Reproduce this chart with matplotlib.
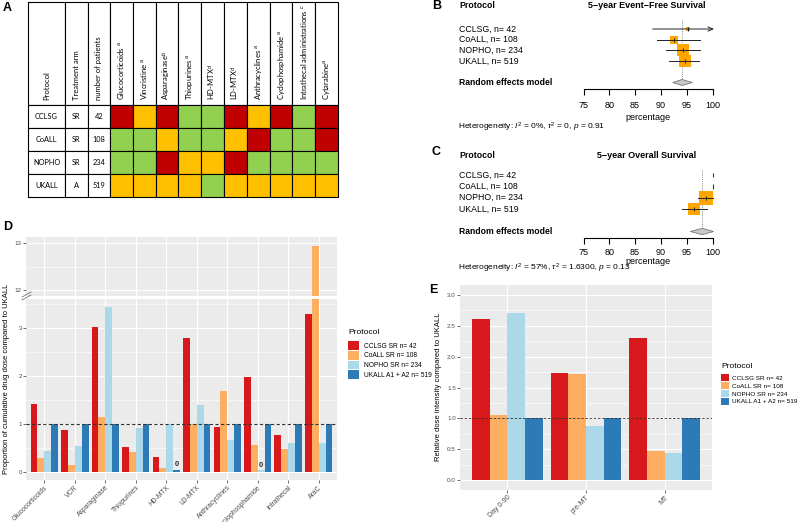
import matplotlib
matplotlib.use('Agg')
import matplotlib.pyplot as plt
import matplotlib.transforms as mtransforms
from matplotlib.patches import Rectangle, Polygon, Patch
from matplotlib.lines import Line2D
import numpy as np

W, H = 800, 522
plt.rcParams['font.family'] = ['Liberation Sans', 'DejaVu Sans']
plt.rcParams['mathtext.fontset'] = 'custom'
plt.rcParams['mathtext.rm'] = 'Liberation Sans'
plt.rcParams['mathtext.it'] = 'Liberation Sans:italic'

# ---------------- data ----------------
# A: protocol comparison table (R = higher, O = similar, G = lower than reference)
tbl_headers = ['Protocol', 'Treatment arm', 'number of patients',
               'Glucocorticoids $^{a}$', 'Vincristine $^{a}$', 'Asparaginase$^{b}$',
               'Thiopurines $^{a}$', 'HD-MTX$^{d}$', 'LD-MTX$^{d}$',
               'Anthracyclines $^{a}$', 'Cyclophosphamide $^{a}$',
               'Intrathecal administrations $^{c}$', 'Cytarabine$^{a}$']
tbl_protocols = ['CCLSG', 'CoALL', 'NOPHO', 'UKALL']
tbl_arms = ['SR', 'SR', 'SR', 'A']
tbl_n = [42, 108, 234, 519]
tbl_grades = [
    ['R', 'O', 'R', 'G', 'G', 'R', 'O', 'R', 'G', 'R'],
    ['G', 'G', 'O', 'G', 'G', 'O', 'R', 'G', 'G', 'R'],
    ['G', 'G', 'R', 'O', 'O', 'R', 'G', 'G', 'G', 'G'],
    ['O', 'O', 'O', 'O', 'G', 'O', 'O', 'O', 'O', 'O'],
]

# B / C: forest plots
fp_labels = ['CCLSG, n= 42', 'CoALL, n= 108', 'NOPHO, n= 234', 'UKALL, n= 519']
efs_est = [95.2, 92.6, 94.2, 94.6]
efs_lo = [88.4, 89.3, 91.0, 91.6]
efs_hi = [101.5, 97.5, 97.5, 97.3]
efs_w = [7, 16, 35, 43]
efs_re = [94.1, 92.3, 96.1]
os_est = [100.0, 100.0, 98.8, 96.5]
os_lo = [100.0, 100.0, 97.2, 94.1]
os_hi = [100.0, 100.0, 100.0, 99.0]
os_w = [0, 0, 52, 35]
os_re = [98.0, 95.7, 100.2]

# D: cumulative drug dose relative to UKALL
drug_names = ['Glucocorticoids', 'VCR', 'Asparaginase', 'Thiopurines', 'HD-MTX',
              'LD-MTX', 'Anthracyclines', 'Cyclophosphamide', 'Intrathecal', 'AraC']
dose_cclsg = [1.41, 0.87, 3.01, 0.51, 0.30, 2.79, 0.94, 1.97, 0.76, 3.29]
dose_coall = [0.28, 0.15, 1.15, 0.41, 0.07, 1.00, 1.68, 0.56, 0.48, 12.94]
dose_nopho = [0.43, 0.53, 3.44, 0.92, 1.00, 1.40, 0.66, 0.03, 0.61, 0.60]
dose_ukall = [1.00, 1.00, 1.00, 1.00, 0.04, 1.00, 1.00, 1.00, 1.00, 1.00]
zero_marks = [('HD-MTX', 3), ('Cyclophosphamide', 2)]

# E: relative dose intensity
phases = ['Day 0-90', 'pre-MT', 'MT']
di_cclsg = [2.61, 1.74, 2.30]
di_coall = [1.06, 1.72, 0.48]
di_nopho = [2.70, 0.88, 0.44]
di_ukall = [1.00, 1.00, 1.00]

legend_labels = ['CCLSG SR n= 42', 'CoALL SR n= 108', 'NOPHO SR n= 234',
                 'UKALL A1 + A2 n= 519']
PAL = ['#D7191C', '#FDAE61', '#ABD9E9', '#2C7BB6']
CELL = {'R': '#C00000', 'O': '#FFC000', 'G': '#92D050'}

fig = plt.figure(figsize=(8, 5.22), dpi=100)


def px_axes(x0, y0, x1, y1):
    return fig.add_axes([x0 / W, 1 - y1 / H, (x1 - x0) / W, (y1 - y0) / H])


def fx(x):
    return x / W


def fy(y):
    return 1 - y / H


def panel_letter(x, y, s):
    fig.text(fx(x), fy(y), s, fontsize=9, fontweight='bold', ha='left', va='center')


# ---------------- A ----------------
axA = px_axes(28, 2, 338, 197)
col_w = [37, 23, 22] + [22.8] * 10
row_h = [103, 23, 23, 23, 23]
xe = np.concatenate([[0], np.cumsum(col_w)])
ye = np.concatenate([[0], np.cumsum(row_h)])
axA.set_xlim(0, xe[-1])
axA.set_ylim(ye[-1], 0)
axA.axis('off')
for j, name in enumerate(tbl_headers):
    axA.add_patch(Rectangle((xe[j], ye[0]), col_w[j], row_h[0], fc='white',
                            ec='black', lw=0.8, clip_on=False))
    axA.text((xe[j] + xe[j + 1]) / 2, ye[1] - 5, name, rotation=90, ha='center',
             va='bottom', fontsize=5.5, family='Lato')
for i, prot in enumerate(tbl_protocols):
    first = [prot, tbl_arms[i], str(tbl_n[i])]
    for j in range(len(col_w)):
        if j < 3:
            fc = 'white'
        else:
            fc = CELL[tbl_grades[i][j - 3]]
        axA.add_patch(Rectangle((xe[j], ye[i + 1]), col_w[j], row_h[i + 1], fc=fc,
                                ec='black', lw=0.8, clip_on=False))
        if j < 3:
            axA.text((xe[j] + xe[j + 1]) / 2, (ye[i + 1] + ye[i + 2]) / 2, first[j],
                     ha='center', va='center', fontsize=5.3, family='Lato')
panel_letter(3, 8, 'A')


# ---------------- B / C ----------------
def forest(top, row0, step, axis_y, tick_pad, title, title_y, est, lo, hi, wts, re,
           het, pct_y, het_y, vline_top):
    ax = px_axes(583.5, top, 712.5, axis_y)
    ax.set_xlim(75, 100)
    ax.set_ylim((axis_y - row0) / step, (top - row0) / step)
    ax.patch.set_visible(False)
    for s in ['top', 'left', 'right']:
        ax.spines[s].set_visible(False)
    ax.spines['bottom'].set_linewidth(0.8)
    ax.set_yticks([])
    ax.set_xticks([75, 80, 85, 90, 95, 100])
    ax.tick_params(axis='x', length=4.5, width=0.8, labelsize=6.5, pad=tick_pad)
    rows = np.arange(len(est))
    trans = mtransforms.blended_transform_factory(fig.transFigure, ax.transData)
    for r, lab in zip(rows, fp_labels):
        ax.text(fx(459), r, lab, transform=trans, fontsize=6.3, va='center', ha='left')
    ax.text(fx(459), 5, 'Random effects model', transform=trans, fontsize=6.2,
            fontweight='bold', va='center', ha='left')
    fig.text(fx(459), fy(title_y), 'Protocol', fontsize=6.3, fontweight='bold',
             va='center', ha='left')
    fig.text(fx(647), fy(title_y), title, fontsize=6.5, fontweight='bold',
             va='center', ha='center')
    fig.text(fx(648), fy(pct_y), 'percentage', fontsize=6.5, va='center', ha='center')
    fig.text(fx(458), fy(het_y), het, fontsize=6, va='center', ha='left')
    ax.vlines(re[0], vline_top, 4.72, colors='#888888', linestyles=(0, (1, 1.2)),
              lw=0.7, clip_on=False)
    for r in rows:
        if wts[r] > 0:
            ax.scatter(est[r], r, s=wts[r] * 1.8, marker='s', color='#FFA500',
                       lw=0, zorder=2, clip_on=False)
            if hi[r] > 100:
                ax.annotate('', xy=(100.3, r), xytext=(lo[r], r),
                            arrowprops=dict(arrowstyle='->,head_length=0.35,head_width=0.15',
                                            lw=0.7, color='#222222',
                                            shrinkA=0, shrinkB=0),
                            annotation_clip=False, zorder=3)
            else:
                ax.plot([lo[r], hi[r]], [r, r], color='#222222', lw=0.7, zorder=3,
                        clip_on=False)
            ax.plot(est[r], r, marker='|', ms=3, mew=0.7, color='#222222', zorder=4,
                    clip_on=False)
        else:
            ax.vlines(est[r], r - 0.2, r + 0.2, colors='#333333', lw=0.8,
                      clip_on=False, zorder=4)
    ax.add_patch(Polygon([(re[1], 5), (re[0], 4.72), (re[2], 5), (re[0], 5.28)],
                         closed=True, fc='#C8C8C8', ec='#777777', lw=0.6,
                         clip_on=False, zorder=3))
    return ax


forest(14, 29, 10.7, 89, 4.5, '5\u2212year Event\u2212Free Survival', 6,
       efs_est, efs_lo, efs_hi, efs_w, efs_re,
       r'Heterogeneity: $I^2$ = 0%, $\tau^2$ = 0, $p$ = 0.91', 117, 127, -0.8)
forest(163, 175, 11.3, 238, 3.0, '5\u2212year Overall Survival', 155,
       os_est, os_lo, os_hi, os_w, os_re,
       r'Heterogeneity: $I^2$ = 57%, $\tau^2$ = 1.6300, $p$ = 0.13', 262, 268, -0.45)
panel_letter(432, 6, 'B')
panel_letter(432, 152, 'C')


# ---------------- ggplot-style helpers ----------------
def gg_style(ax):
    ax.set_facecolor('#EBEBEB')
    for s in ax.spines.values():
        s.set_visible(False)
    ax.set_axisbelow(True)
    ax.grid(True, which='major', color='white', lw=0.8)
    ax.grid(True, which='minor', axis='y', color='white', lw=0.4)
    ax.tick_params(which='major', length=2, width=0.5, color='#333333',
                   labelsize=4.5, labelcolor='#4D4D4D', pad=1)
    ax.tick_params(which='minor', length=0)


bw = 0.225
offsets = (np.arange(4) - 1.5) * bw
handles = [Patch(facecolor=c, edgecolor='none') for c in PAL]

# ---------------- D ----------------
xD = np.arange(len(drug_names))
dose_series = [dose_cclsg, dose_coall, dose_nopho, dose_ukall]
axDu = px_axes(26, 237, 337, 296)
axDl = px_axes(26, 299, 337, 480)
for ax in (axDu, axDl):
    gg_style(ax)
    for k, vals in enumerate(dose_series):
        ax.bar(xD + offsets[k], vals, width=bw, color=PAL[k], zorder=2)
    ax.set_xlim(-0.6, len(drug_names) - 0.4)
    ax.set_xticks(xD)
axDu.set_ylim(11.88, 13.12)
axDu.set_yticks([12, 13])
axDu.set_yticks([12.5], minor=True)
axDu.tick_params(axis='x', length=0, labelbottom=False)
axDl.set_ylim(-0.17, 3.6)
axDl.set_yticks([0, 1, 2, 3])
axDl.set_yticks([0.5, 1.5, 2.5, 3.5], minor=True)
axDl.set_xticklabels(drug_names, rotation=45, ha='right', va='top',
                     rotation_mode='anchor', fontsize=4.9)
axDl.axhline(1, color='#333333', ls=(0, (3, 2)), lw=0.8, zorder=3)
for drug, k in zero_marks:
    i = drug_names.index(drug)
    axDl.text(xD[i] + offsets[k], dose_series[k][i] + 0.03, '0', ha='center',
              va='bottom', fontsize=5.5, color='#333333', fontweight='bold')
# axis break marks
for dy in (0, 3):
    fig.add_artist(Line2D([fx(22), fx(31)], [fy(297 + dy), fy(292 + dy)],
                          color='#777777', lw=0.6))
fig.text(fx(7), fy(379), 'Proportion of cumulative drug dose compared to UKALL',
         rotation=90, ha='center', va='center', fontsize=5.5)
fig.text(fx(348), fy(333), 'Protocol', fontsize=6, ha='left', va='center')
fig.legend(handles, legend_labels, loc='upper left',
           bbox_to_anchor=(fx(348), fy(341)), bbox_transform=fig.transFigure,
           frameon=False, fontsize=4.8, handlelength=1.65,
           handleheight=1.65, labelspacing=0.15, handletextpad=0.7,
           borderpad=0, borderaxespad=0)
panel_letter(3, 227, 'D')

# ---------------- E ----------------
xE = np.arange(len(phases))
di_series = [di_cclsg, di_coall, di_nopho, di_ukall]
axE = px_axes(460, 285, 712, 490)
gg_style(axE)
for k, vals in enumerate(di_series):
    axE.bar(xE + offsets[k], vals, width=bw, color=PAL[k], zorder=2)
axE.set_xlim(-0.6, len(phases) - 0.4)
axE.set_xticks(xE)
axE.set_xticklabels(phases, rotation=45, ha='right', va='top',
                    rotation_mode='anchor', fontsize=5)
axE.set_ylim(-0.155, 3.155)
yt = np.arange(0, 3.01, 0.5)
axE.set_yticks(yt)
axE.set_yticklabels(['%.1f' % v for v in yt])
axE.set_yticks(np.arange(0.25, 3.1, 0.5), minor=True)
axE.axhline(1, color='#333333', ls=(0, (3, 2)), lw=0.6, zorder=3)
fig.text(fx(438), fy(387), 'Relative dose intensity compared to UKALL',
         rotation=90, ha='center', va='center', fontsize=5.5)
fig.text(fx(721), fy(367), 'Protocol', fontsize=6, ha='left', va='center')
fig.legend(handles, legend_labels, loc='upper left',
           bbox_to_anchor=(fx(721), fy(374.5)), bbox_transform=fig.transFigure,
           frameon=False, fontsize=4.6, handlelength=1.3,
           handleheight=1.3, labelspacing=0.12, handletextpad=0.45,
           borderpad=0, borderaxespad=0)
panel_letter(429, 290, 'E')

fig.savefig('out.png', dpi=100)
